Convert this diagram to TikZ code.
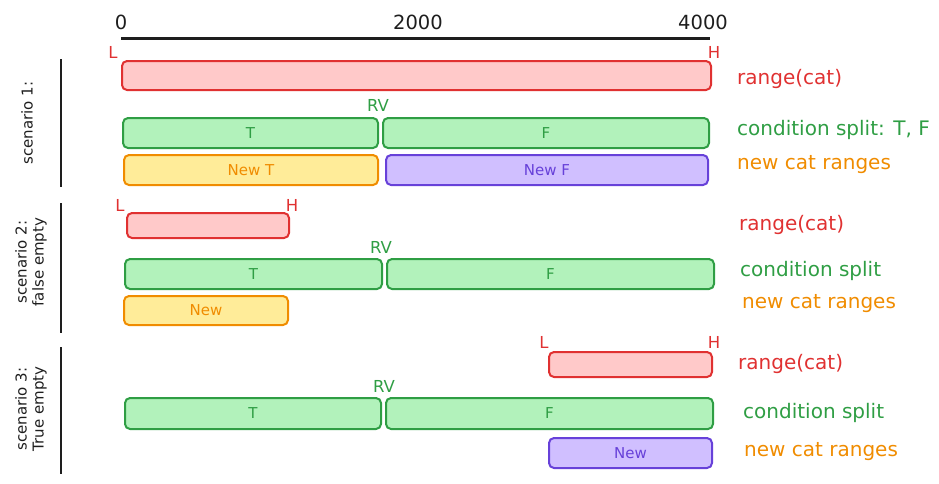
\documentclass[tikz,border=0pt]{standalone}
\usepackage{fontspec}
\setmainfont{DejaVu Sans}
\definecolor{rstroke}{HTML}{E03131}
\definecolor{rfill}{HTML}{FFC9C9}
\definecolor{gstroke}{HTML}{2F9E44}
\definecolor{gfill}{HTML}{B2F2BB}
\definecolor{ystroke}{HTML}{F08C00}
\definecolor{yfill}{HTML}{FFEC99}
\definecolor{pstroke}{HTML}{6741D9}
\definecolor{pfill}{HTML}{D0BFFF}
\definecolor{ink}{HTML}{1E1E1E}
\begin{document}
\begin{tikzpicture}[x=1pt,y=-1pt,
  barbox/.style={rectangle, rounded corners=5pt, line width=2pt, anchor=north west, inner sep=0pt, font=\fontsize{15}{17}\selectfont},
  redbar/.style={barbox, draw=rstroke, fill=rfill},
  greenbar/.style={barbox, draw=gstroke, fill=gfill, text=gstroke},
  yellowbar/.style={barbox, draw=ystroke, fill=yfill, text=ystroke},
  purplebar/.style={barbox, draw=pstroke, fill=pfill, text=pstroke},
  sidelabel/.style={anchor=west, inner sep=0pt, font=\fontsize{20}{22}\selectfont},
  endlabel/.style={inner sep=0pt, font=\fontsize{16.5}{18}\selectfont},
  ticklabel/.style={inner sep=0pt, text=ink, font=\fontsize{19.5}{21}\selectfont},
  scen/.style={rotate=90, inner sep=0pt, align=center, text=ink, font=\fontsize{15}{17}\selectfont},
  divider/.style={draw=ink, line width=2.6pt}
]
\useasboundingbox (0,0) rectangle (939,483);

% axis
\coordinate (a0) at (121,38);
\coordinate (a4) at (710,38);
\draw[ink, line width=3pt] (a0) -- (a4);
\node[ticklabel] (t0) at (121,22) {0};
\node[ticklabel] (t2) at (418,22) {2000};
\node[ticklabel] (t4) at (703,22) {4000};

% scenario 1
\coordinate (d1a) at (61,59);
\coordinate (d1b) at (61,187);
\draw[divider] (d1a) -- (d1b);
\node[scen] (s1) at (27,123) {scenario 1:};
\node[redbar, minimum width=589pt, minimum height=29pt] (r1) at (121,60) {};
\node[endlabel, text=rstroke] (l1) at (113,52) {L};
\node[endlabel, text=rstroke] (h1) at (714,52) {H};
\node[sidelabel, text=rstroke] (lr1) at (737,79) {range(cat)};
\node[greenbar, minimum width=255pt, minimum height=30pt] (gt1) at (122,117) {T};
\node[greenbar, minimum width=326pt, minimum height=30pt] (gf1) at (382,117) {F};
\node[endlabel, text=gstroke] (rv1) at (378,105) {RV};
\node[sidelabel, text=gstroke] (lc1) at (737,130) {condition split: T, F};
\node[yellowbar, minimum width=254pt, minimum height=30pt] (yn1) at (123,154) {New T};
\node[purplebar, minimum width=322pt, minimum height=30pt] (pn1) at (385,154) {New F};
\node[sidelabel, text=ystroke] (ln1) at (737,165) {new cat ranges};

% scenario 2
\coordinate (d2a) at (61,203);
\coordinate (d2b) at (61,333);
\draw[divider] (d2a) -- (d2b);
\node[scen] (s2) at (31,262) {scenario 2:\\false empty};
\node[redbar, minimum width=162pt, minimum height=25pt] (r2) at (126,212) {};
\node[endlabel, text=rstroke] (l2) at (120,205) {L};
\node[endlabel, text=rstroke] (h2) at (292,205) {H};
\node[sidelabel, text=rstroke] (lr2) at (739,225) {range(cat)};
\node[greenbar, minimum width=257pt, minimum height=30pt] (gt2) at (124,258) {T};
\node[greenbar, minimum width=327pt, minimum height=30pt] (gf2) at (386,258) {F};
\node[endlabel, text=gstroke] (rv2) at (381,247) {RV};
\node[sidelabel, text=gstroke] (lc2) at (740,271) {condition split};
\node[yellowbar, minimum width=164pt, minimum height=29pt] (yn2) at (123,295) {New};
\node[sidelabel, text=ystroke] (ln2) at (742,304) {new cat ranges};

% scenario 3
\coordinate (d3a) at (61,347);
\coordinate (d3b) at (61,474);
\draw[divider] (d3a) -- (d3b);
\node[scen] (s3) at (31,409) {scenario 3:\\True empty};
\node[redbar, minimum width=163pt, minimum height=25pt] (r3) at (548,351) {};
\node[endlabel, text=rstroke] (l3) at (544,342) {L};
\node[endlabel, text=rstroke] (h3) at (714,342) {H};
\node[sidelabel, text=rstroke] (lr3) at (738,364) {range(cat)};
\node[greenbar, minimum width=256pt, minimum height=31pt] (gt3) at (124,397) {T};
\node[greenbar, minimum width=327pt, minimum height=31pt] (gf3) at (385,397) {F};
\node[endlabel, text=gstroke] (rv3) at (384,386) {RV};
\node[sidelabel, text=gstroke] (lc3) at (743,413) {condition split};
\node[purplebar, minimum width=163pt, minimum height=30pt] (pn3) at (548,437) {New};
\node[sidelabel, text=ystroke] (ln3) at (744,452) {new cat ranges};
\end{tikzpicture}
\end{document}
